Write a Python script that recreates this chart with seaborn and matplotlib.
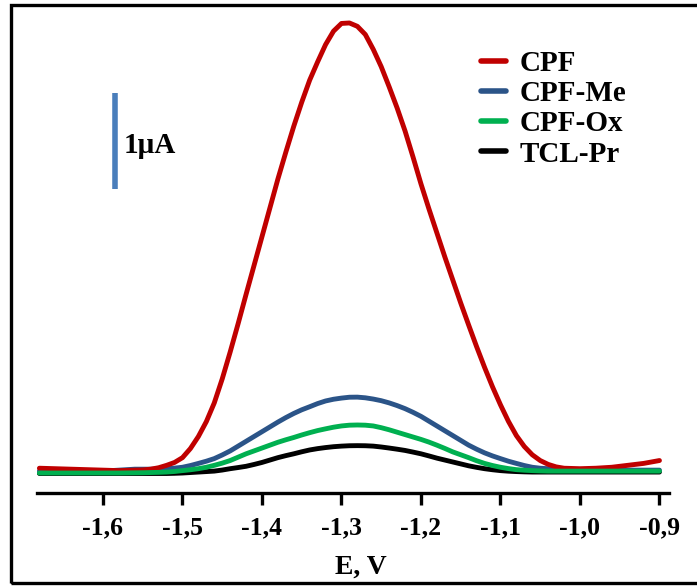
import numpy as np
import pandas as pd
import seaborn as sns
import matplotlib
matplotlib.use("Agg")
import matplotlib.pyplot as plt
from matplotlib.patches import Rectangle

# ---------------- data ----------------
potential = [-1.68, -1.66, -1.64, -1.62, -1.60, -1.58,
             -1.56, -1.55, -1.54, -1.53, -1.52, -1.51, -1.50, -1.49, -1.48, -1.47,
             -1.46, -1.45, -1.44, -1.43, -1.42, -1.41, -1.40, -1.39, -1.38, -1.37,
             -1.36, -1.35, -1.34, -1.33, -1.32, -1.31, -1.30, -1.29, -1.28, -1.27,
             -1.26, -1.25, -1.24, -1.23, -1.22, -1.21, -1.20, -1.19, -1.18, -1.17,
             -1.16, -1.15, -1.14, -1.13, -1.12, -1.11, -1.10, -1.09, -1.08, -1.07,
             -1.06, -1.05, -1.04, -1.03, -1.02,
             -1.00, -0.98, -0.96, -0.94, -0.92, -0.90]

cpf = [0.04, 0.035, 0.03, 0.025, 0.02, 0.015,
       0.02, 0.022, 0.03, 0.045, 0.07, 0.10, 0.15, 0.245, 0.37, 0.525,
       0.72, 0.97, 1.25, 1.545, 1.85, 2.15, 2.45, 2.75, 3.05, 3.33,
       3.60, 3.85, 4.08, 4.27, 4.45, 4.59, 4.67, 4.675, 4.64, 4.555,
       4.40, 4.22, 4.01, 3.79, 3.55, 3.28, 3.00, 2.74, 2.49, 2.24,
       2.00, 1.76, 1.53, 1.305, 1.09, 0.887, 0.70, 0.528, 0.38, 0.266,
       0.18, 0.12, 0.08, 0.054, 0.04,
       0.035, 0.04, 0.05, 0.07, 0.09, 0.12]

cpf_me = [0.01, 0.01, 0.01, 0.01, 0.01, 0.02,
          0.03, 0.03, 0.03, 0.032, 0.035, 0.041, 0.05, 0.068, 0.09, 0.113,
          0.14, 0.178, 0.22, 0.27, 0.32, 0.37, 0.42, 0.47, 0.52, 0.567,
          0.61, 0.648, 0.68, 0.713, 0.74, 0.758, 0.77, 0.779, 0.78, 0.773,
          0.76, 0.743, 0.72, 0.692, 0.66, 0.622, 0.58, 0.53, 0.48, 0.43,
          0.38, 0.33, 0.28, 0.238, 0.20, 0.168, 0.14, 0.113, 0.09, 0.068,
          0.05, 0.04, 0.035, 0.032, 0.03,
          0.025, 0.02, 0.02, 0.02, 0.02, 0.02]

cpf_ox = [-0.01, -0.01, -0.01, -0.01, -0.01, -0.01,
          -0.008, -0.007, -0.005, -0.003, 0.0, 0.006, 0.015, 0.024, 0.035, 0.05,
          0.07, 0.093, 0.12, 0.155, 0.19, 0.22, 0.25, 0.28, 0.31, 0.336,
          0.36, 0.386, 0.41, 0.432, 0.45, 0.467, 0.48, 0.488, 0.49, 0.488,
          0.48, 0.462, 0.44, 0.415, 0.39, 0.365, 0.34, 0.312, 0.28, 0.246,
          0.21, 0.18, 0.15, 0.118, 0.09, 0.068, 0.05, 0.036, 0.025, 0.019,
          0.015, 0.012, 0.01, 0.01, 0.01,
          0.01, 0.01, 0.01, 0.01, 0.01, 0.01]

tcl_pr = [-0.015, -0.015, -0.015, -0.015, -0.015, -0.015,
          -0.015, -0.015, -0.015, -0.015, -0.015, -0.013, -0.01, -0.005, 0.0, 0.005,
          0.01, 0.021, 0.035, 0.047, 0.06, 0.079, 0.10, 0.125, 0.15, 0.171,
          0.19, 0.211, 0.23, 0.244, 0.255, 0.264, 0.27, 0.274, 0.275, 0.274,
          0.27, 0.261, 0.25, 0.238, 0.225, 0.208, 0.19, 0.168, 0.145, 0.125,
          0.105, 0.085, 0.065, 0.049, 0.035, 0.024, 0.015, 0.009, 0.005, 0.002,
          0.0, 0.0, 0.0, 0.0, 0.0,
          0.0, 0.0, 0.0, 0.0, 0.0, 0.0]

samples = ["CPF", "CPF-Me", "CPF-Ox", "TCL-Pr"]
colors = ["#C00000", "#2B5488", "#00B050", "#000000"]

tick_values = [-1.6, -1.5, -1.4, -1.3, -1.2, -1.1, -1.0, -0.9]
tick_labels = ["-1,6", "-1,5", "-1,4", "-1,3", "-1,2", "-1,1", "-1,0", "-0,9"]

scale_bar_x = -1.5855
scale_bar_bottom = 2.95
scale_bar_length = 1.0
scale_bar_label = "1\u00b5A"

# ---------------- build table ----------------
series = [cpf, cpf_me, cpf_ox, tcl_pr]
frames = [pd.DataFrame({"E": potential, "I": vals, "sample": name})
          for name, vals in zip(samples, series)]
df = pd.concat(frames, ignore_index=True)

# ---------------- style ----------------
sns.set_theme(style="white")
plt.rcParams["font.family"] = ["Liberation Serif", "DejaVu Serif"]
plt.rcParams["font.weight"] = "bold"
plt.rcParams["text.color"] = "black"
plt.rcParams["axes.labelcolor"] = "black"
plt.rcParams["xtick.color"] = "black"

W, H = 697, 586
fig = plt.figure(figsize=(W / 100, H / 100), dpi=100)
ax = fig.add_axes([37 / W, (H - 493) / H, (669 - 37) / W, (493 - 10) / H])

sns.lineplot(data=df, x="E", y="I", hue="sample", hue_order=samples,
             palette=colors, sort=False, estimator=None, linewidth=3.5,
             ax=ax, legend=True)

for line, z in zip(ax.lines[:4], [3, 2.5, 3.5, 2]):
    line.set_zorder(z)
    line.set_solid_capstyle("round")
    line.set_solid_joinstyle("round")

ax.set_xlim(-1.683, -0.888)
ax.set_ylim(-0.218, 4.81)

for side in ["left", "top", "right"]:
    ax.spines[side].set_visible(False)
ax.spines["bottom"].set_linewidth(2.4)
ax.spines["bottom"].set_color("black")
ax.set_yticks([])
ax.set_ylabel("")
ax.set_xticks(tick_values)
ax.set_xticklabels(tick_labels, fontsize=18.5, fontweight="bold")
ax.tick_params(axis="x", direction="out", length=8.6, width=2.4, pad=8,
               colors="black", bottom=True)
ax.set_xlabel("E, V", fontsize=20, fontweight="bold")
ax.xaxis.set_label_coords(0.512, -0.128)

handles, labels = ax.get_legend_handles_labels()
leg = ax.legend(handles, labels, loc="upper left",
                bbox_to_anchor=(481 / W, 1 - 50 / H), bbox_transform=fig.transFigure,
                frameon=False, prop={"weight": "bold", "size": 21},
                handlelength=0.85, handletextpad=0.47, labelspacing=0.11,
                borderpad=0, borderaxespad=0)
for h in leg.get_lines():
    h.set_linewidth(4)

ax.plot([scale_bar_x, scale_bar_x],
        [scale_bar_bottom, scale_bar_bottom + scale_bar_length],
        color="#4A7EBB", linewidth=4, solid_capstyle="butt")
ax.text(scale_bar_x + 0.011, scale_bar_bottom + 0.45, scale_bar_label,
        fontsize=21, fontweight="bold", va="center", ha="left", color="black")

fig.patches.append(Rectangle((11 / W, 3 / H), 1.2, (581 - 3) / H,
                             transform=fig.transFigure, fill=False,
                             linewidth=2.4, edgecolor="black"))

fig.savefig("out.png", dpi=100, facecolor="white")
